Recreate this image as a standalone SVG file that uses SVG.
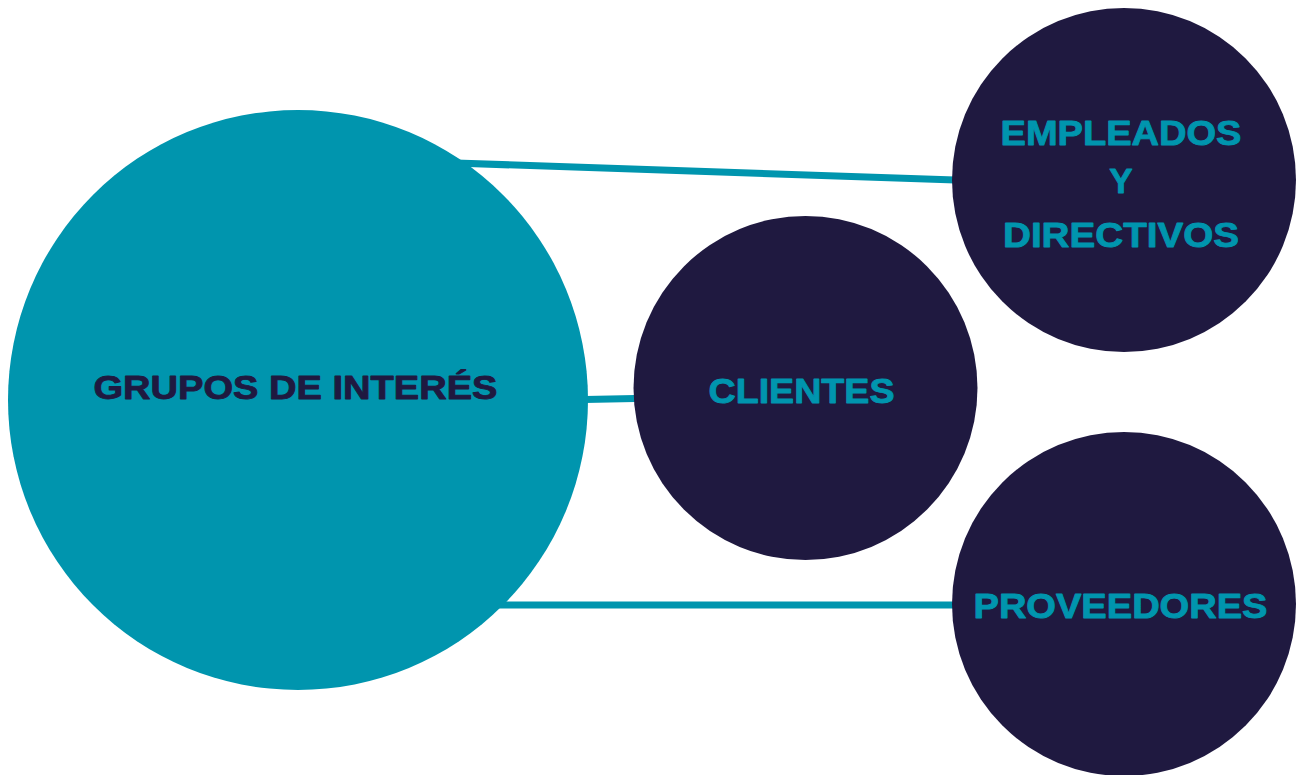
<svg xmlns="http://www.w3.org/2000/svg" width="1303" height="775" viewBox="0 0 1303 775">
<style>
.teal{fill:#0095AE}
.navy{fill:#1F1940}
.conn{stroke:#0095AE;stroke-width:7;fill:none}
text{font-family:"Liberation Sans",Arial,sans-serif;font-weight:700;text-anchor:middle;stroke-width:0.9px;stroke-linejoin:round}
.lt{fill:#1F1940;stroke:#1F1940;font-size:34px}
.dk{fill:#0095AE;stroke:#0095AE;font-size:35px}
</style>
<rect width="1303" height="775" fill="#FFFFFF"/>
<g id="connectors">
<line class="conn" x1="440" y1="162.5" x2="1000" y2="181.5"/>
<line class="conn" x1="560" y1="400" x2="660" y2="398"/>
<line class="conn" x1="480" y1="605" x2="990" y2="605"/>
</g>
<g id="grupos">
<circle class="teal" cx="298" cy="400" r="290"/>
<text class="lt" x="295.5" y="399" textLength="404" lengthAdjust="spacingAndGlyphs">GRUPOS DE INTERÉS</text>
</g>
<g id="clientes">
<circle class="navy" cx="805.5" cy="388" r="172"/>
<text class="dk" x="801.5" y="403" textLength="186" lengthAdjust="spacingAndGlyphs">CLIENTES</text>
</g>
<g id="empleados">
<circle class="navy" cx="1124" cy="180" r="172"/>
<text class="dk" x="1121" y="145" textLength="241" lengthAdjust="spacingAndGlyphs">EMPLEADOS</text>
<text class="dk" x="1121" y="193">Y</text>
<text class="dk" x="1121" y="247" textLength="236" lengthAdjust="spacingAndGlyphs">DIRECTIVOS</text>
</g>
<g id="proveedores">
<circle class="navy" cx="1124" cy="604" r="172"/>
<text class="dk" x="1120.5" y="618" textLength="294" lengthAdjust="spacingAndGlyphs">PROVEEDORES</text>
</g>
</svg>
